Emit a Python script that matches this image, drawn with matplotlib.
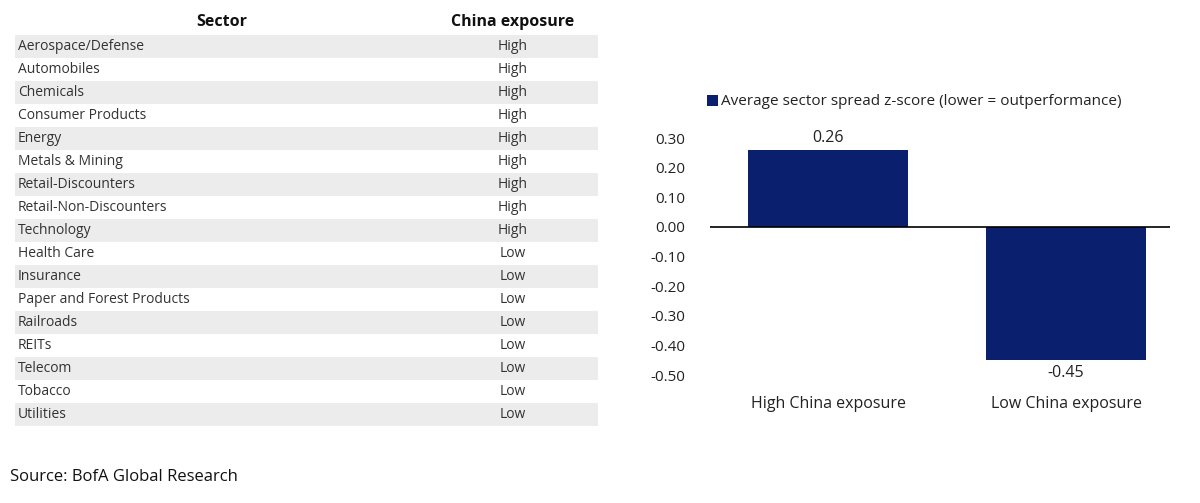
import matplotlib.pyplot as plt
from matplotlib.patches import Rectangle

sectors = ["Aerospace/Defense","Automobiles","Chemicals","Consumer Products","Energy",
           "Metals & Mining","Retail-Discounters","Retail-Non-Discounters","Technology",
           "Health Care","Insurance","Paper and Forest Products","Railroads","REITs",
           "Telecom","Tobacco","Utilities"]
exposure = ["High"]*9 + ["Low"]*8
categories = ["High China exposure", "Low China exposure"]
values = [0.26, -0.45]
yticks = [0.30,0.20,0.10,0.00,-0.10,-0.20,-0.30,-0.40,-0.50]

W, H = 1200, 503
fig = plt.figure(figsize=(12, 5.03), dpi=100)
plt.rcParams['font.family'] = ['Open Sans', 'DejaVu Sans']

# Table
tab = fig.add_axes([0, 0, 1, 1]); tab.set_xlim(0, W); tab.set_ylim(H, 0); tab.axis('off')
tab.text(222, 22, "Sector", ha='center', va='center', fontsize=11.5, fontweight='bold', color='#111')
tab.text(513, 22, "China exposure", ha='center', va='center', fontsize=11.5, fontweight='bold', color='#111')
row_h = 23.0; top = 35
for i, (s, e) in enumerate(zip(sectors, exposure)):
    y0 = top + i*row_h
    if i % 2 == 0:
        tab.add_patch(Rectangle((15, y0), 583, row_h, color='#ececec', lw=0))
    tab.text(18, y0 + row_h/2, s, va='center', fontsize=10, color='#333')
    tab.text(513, y0 + row_h/2, e, ha='center', va='center', fontsize=10, color='#333')
tab.text(10, 477, "Source: BofA Global Research", va='center', fontsize=12, color='#111')

# Bar chart: pixel zero at 227, 0.26 at 150
ppu = (227-150)/0.26
y_top_px, y_bot_px = 227 - 0.32*ppu, 227 + 0.5*ppu
ax = fig.add_axes([710/W, 1 - y_bot_px/H, 460/W, (y_bot_px - y_top_px)/H])
ax.bar([0, 1], values, width=0.67, color='#0a1f6e')
ax.set_xlim(-0.496, 1.437)
ax.set_ylim(-0.5, 0.32)
ax.axhline(0, color='black', lw=1.2)
for s in ax.spines.values(): s.set_visible(False)
ax.set_yticks(yticks)
ax.set_yticklabels([f"{t:.2f}" for t in yticks], fontsize=11, color='#222')
ax.tick_params(length=0, pad=18)
ax.set_xticks([])
for i, v in enumerate(values):
    ax.text(i, v + (0.015 if v > 0 else -0.015), f"{v:.2f}", ha='center',
            va='bottom' if v > 0 else 'top', fontsize=11.5, color='#222')
for i, c in enumerate(categories):
    ax.text(i, -0.57, c, ha='center', va='top', fontsize=11.5, color='#222')
tab.add_patch(Rectangle((707, 95), 11, 11, color='#0a1f6e', lw=0))
tab.text(721, 101, "Average sector spread z-score (lower = outperformance)", va='center', fontsize=11, color='#222')

fig.savefig("out.png", dpi=100)
